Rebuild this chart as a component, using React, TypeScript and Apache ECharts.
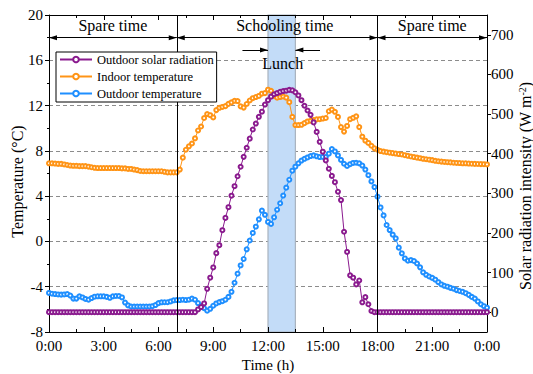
import React, { useEffect, useRef } from "react";
import * as echarts from "echarts";

const FONT = "'Liberation Serif', 'Times New Roman', Times, serif";

// Sampling grid: one reading every 10 minutes, 0:00 .. 24:00
const STEP_HOURS = 1 / 6;

const X_TICKS_HOURS = [0, 3, 6, 9, 12, 15, 18, 21, 24];
const LEFT_TICKS = [-8, -4, 0, 4, 8, 12, 16, 20];
const RIGHT_TICKS = [0, 100, 200, 300, 400, 500, 600, 700];

const SERIES_NAMES = ["Outdoor solar radiation", "Indoor temperature", "Outdoor temperature"];
const COLORS = ["#8a1a8e", "#ff9416", "#1f8fff"];

// Outdoor solar radiation (W m-2)
const SOLAR = [
  0, 0, 0, 0, 0, 0,
  0, 0, 0, 0, 0, 0,
  0, 0, 0, 0, 0, 0,
  0, 0, 0, 0, 0, 0,
  0, 0, 0, 0, 0, 0,
  0, 0, 0, 0, 0, 0,
  0, 0, 0, 0, 0, 0,
  0, 0, 0, 0, 0, 0,
  0, 7, 13, 22, 59, 87,
  113, 149, 169, 207, 238, 265,
  294, 318, 343, 367, 392, 415,
  438, 461, 476, 493, 506, 524,
  535, 544, 550, 553, 556, 558,
  559, 561, 560, 555, 547, 535,
  521, 509, 498, 479, 455, 430,
  405, 383, 362, 344, 328, 304,
  283, 203, 152, 93, 87, 70,
  80, 25, 38, 20, 3, 0,
  0, 0, 0, 0, 0, 0,
  0, 0, 0, 0, 0, 0,
  0, 0, 0, 0, 0, 0,
  0, 0, 0, 0, 0, 0,
  0, 0, 0, 0, 0, 0,
  0, 0, 0, 0, 0, 0,
  0,
];

// Indoor temperature (°C)
const INDOOR = [
  6.9, 6.9, 6.88, 6.85, 6.85, 6.8,
  6.75, 6.7, 6.68, 6.68, 6.65, 6.65,
  6.65, 6.6, 6.55, 6.5, 6.48, 6.48,
  6.48, 6.48, 6.48, 6.48, 6.48, 6.48,
  6.45, 6.45, 6.4, 6.4, 6.35, 6.3,
  6.22, 6.2, 6.2, 6.2, 6.2, 6.2,
  6.2, 6.2, 6.15, 6.1, 6.1, 6.1,
  6.1, 6.35, 7.4, 8.1, 8.4, 8.65,
  9.1, 9.8, 10.15, 10.9, 11.25, 11.15,
  10.95, 11.6, 11.8, 11.88, 11.95, 12.15,
  12.28, 12.42, 12.4, 11.93, 11.82, 12.14,
  12.45, 12.65, 12.75, 12.85, 13.05, 13.1,
  13.4, 13.3, 12.85, 12.7, 12.75, 12.8,
  12.7, 12.3, 11.0, 10.28, 10.28, 10.3,
  10.45, 10.6, 10.66, 10.72, 10.78, 10.8,
  10.85, 10.9, 11.5, 11.65, 11.45, 11.0,
  10.1, 9.7, 10.2, 10.8, 10.92, 11.05,
  10.1, 9.25, 8.9, 8.7, 8.45, 8.22,
  8.1, 7.98, 7.93, 7.88, 7.84, 7.8,
  7.76, 7.72, 7.68, 7.62, 7.56, 7.5,
  7.45, 7.4, 7.35, 7.3, 7.26, 7.22,
  7.18, 7.12, 7.08, 7.05, 7.02, 7.0,
  6.98, 6.95, 6.93, 6.92, 6.9, 6.9,
  6.88, 6.86, 6.85, 6.84, 6.83, 6.82,
  6.8,
];

// Outdoor temperature (°C)
const OUTDOOR = [
  -4.55, -4.62, -4.65, -4.68, -4.7, -4.68,
  -4.65, -4.78, -5.05, -5.05, -4.85, -4.95,
  -5.08, -5.15, -5.0, -4.88, -4.85, -4.85,
  -4.85, -4.9, -4.98, -4.85, -4.82, -4.82,
  -4.95, -5.4, -5.65, -5.75, -5.75, -5.75,
  -5.75, -5.75, -5.75, -5.75, -5.72, -5.62,
  -5.45, -5.38, -5.37, -5.37, -5.3, -5.2,
  -5.18, -5.18, -5.15, -5.18, -5.15, -5.05,
  -5.15, -5.45, -5.7, -5.9, -6.12, -5.95,
  -5.68, -5.48, -5.36, -5.28, -5.15, -4.9,
  -4.45, -3.65, -2.85, -2.12, -1.55, -0.7,
  0.08, 0.75, 1.3, 1.95, 2.72, 2.35,
  1.72, 1.55, 2.13, 2.8, 3.37, 4.05,
  4.75, 5.45, 6.25, 6.6, 6.9, 7.14,
  7.3, 7.42, 7.54, 7.6, 7.52, 7.45,
  7.46, 7.45, 7.75, 8.16, 7.95, 7.6,
  7.2, 6.86, 6.67, 6.82, 6.93, 6.95,
  6.9, 6.7, 6.35, 5.85, 5.3, 4.8,
  3.95, 3.0, 2.3, 1.45, 1.0, 0.6,
  0.27, -0.55, -1.05, -1.5, -1.7, -1.65,
  -1.73, -1.95, -2.29, -2.73, -2.95, -3.1,
  -3.22, -3.38, -3.6, -3.8, -3.92, -4.0,
  -4.1, -4.18, -4.3, -4.38, -4.45, -4.57,
  -4.72, -4.9, -5.05, -5.3, -5.55, -5.72,
  -5.85,
];

// Periods of the day (hours)
const PERIOD_NAMES = ["Spare time", "Schooling time", "Spare time"];
const PERIOD_BOUNDS = [0, 7, 18, 24];
const LUNCH_BOUNDS = [12, 13.5];
const LUNCH_LABEL = "Lunch";

const toPairs = (vals: number[]) => vals.map((v, i) => [i * STEP_HOURS, v]);

export default function App() {
  const ref = useRef<HTMLDivElement>(null);

  useEffect(() => {
    const chart = echarts.init(ref.current!, null, { renderer: "svg" });

    const axisLineStyle = { color: "#000", width: 1 };
    const labelStyle = { fontSize: 15, color: "#000", fontFamily: FONT };

    const seriesCommon = {
      type: "line" as const,
      symbol: "emptyCircle",
      symbolSize: 4,
      showAllSymbol: true,
      xAxisIndex: 0,
      silent: true,
    };

    const ARROW_Y = 18;
    const LUNCH_ARROW_Y = 16.9;

    const periodSegments = PERIOD_NAMES.map((_, k) => [
      { coord: [PERIOD_BOUNDS[k], ARROW_Y] },
      { coord: [PERIOD_BOUNDS[k + 1], ARROW_Y] },
    ]);

    const option: any = {
      animation: false,
      backgroundColor: "#fff",
      textStyle: { fontFamily: FONT },
      grid: { left: 49, right: 46, top: 15, bottom: 42, containLabel: false, outerBoundsMode: "none" },
      legend: {
        data: SERIES_NAMES,
        orient: "vertical",
        left: 56,
        top: 52,
        padding: [1, 3, 2, 3],
        itemGap: 4,
        itemWidth: 32,
        itemHeight: 7,
        borderColor: "#000",
        borderWidth: 1,
        backgroundColor: "#fff",
        textStyle: { fontSize: 12.5, color: "#000", fontFamily: FONT },
        z: 10,
      },
      xAxis: [
        {
          type: "value",
          min: X_TICKS_HOURS[0],
          max: X_TICKS_HOURS[X_TICKS_HOURS.length - 1],
          interval: 3,
          position: "bottom",
          z: 6,
          axisLine: { onZero: false, lineStyle: axisLineStyle },
          axisTick: { inside: true, length: 5, lineStyle: axisLineStyle },
          minorTick: { show: true, splitNumber: 2, length: 3, lineStyle: axisLineStyle },
          axisLabel: {
            ...labelStyle,
            margin: 6,
            showMinLabel: true,
            showMaxLabel: true,
            formatter: (v: number) => `${v % 24}:00`,
          },
          splitLine: { show: false },
          name: "Time (h)",
          nameLocation: "middle",
          nameGap: 23,
          nameTextStyle: { fontSize: 15, color: "#000", fontFamily: FONT },
        },
        {
          type: "value",
          min: X_TICKS_HOURS[0],
          max: X_TICKS_HOURS[X_TICKS_HOURS.length - 1],
          interval: 3,
          position: "top",
          z: 6,
          axisLine: { onZero: false, lineStyle: axisLineStyle },
          axisTick: { inside: true, length: 5, lineStyle: axisLineStyle },
          minorTick: { show: true, splitNumber: 2, length: 3, lineStyle: axisLineStyle },
          axisLabel: { show: false },
          splitLine: { show: false },
        },
      ],
      yAxis: [
        {
          type: "value",
          min: LEFT_TICKS[0],
          max: LEFT_TICKS[LEFT_TICKS.length - 1],
          interval: 4,
          position: "left",
          axisLine: { show: true, onZero: false, lineStyle: axisLineStyle },
          axisTick: { show: true, inside: false, length: 4, lineStyle: axisLineStyle },
          minorTick: { show: true, splitNumber: 2, length: 2, lineStyle: axisLineStyle },
          axisLabel: { ...labelStyle, margin: 6 },
          splitLine: { show: true, lineStyle: { color: "#8c8c8c", type: [4, 3], width: 1 } },
        },
        {
          type: "value",
          min: -50,
          max: 750,
          position: "right",
          axisLine: { show: true, onZero: false, lineStyle: axisLineStyle },
          axisTick: { show: true, inside: false, length: 4, lineStyle: axisLineStyle, customValues: RIGHT_TICKS },
          axisLabel: { ...labelStyle, margin: 4, customValues: RIGHT_TICKS },
          splitLine: { show: false },
        },
      ],
      series: [
        {
          name: "lunch-band",
          type: "line",
          data: [],
          xAxisIndex: 0,
          yAxisIndex: 0,
          z: 1,
          silent: true,
          markArea: {
            silent: true,
            itemStyle: { color: "#c3dcf8", borderColor: "#a9b3bf", borderWidth: 1.2 },
            data: [[{ xAxis: LUNCH_BOUNDS[0] }, { xAxis: LUNCH_BOUNDS[1] }]],
          },
        },
        {
          ...seriesCommon,
          name: SERIES_NAMES[2],
          yAxisIndex: 0,
          z: 2,
          data: toPairs(OUTDOOR),
          lineStyle: { color: COLORS[2], width: 1 },
          itemStyle: { color: COLORS[2], borderWidth: 1 },
        },
        {
          ...seriesCommon,
          name: SERIES_NAMES[1],
          yAxisIndex: 0,
          z: 3,
          data: toPairs(INDOOR),
          lineStyle: { color: COLORS[1], width: 1 },
          itemStyle: { color: COLORS[1], borderWidth: 1 },
        },
        {
          ...seriesCommon,
          name: SERIES_NAMES[0],
          yAxisIndex: 1,
          z: 4,
          data: toPairs(SOLAR),
          lineStyle: { color: COLORS[0], width: 1 },
          itemStyle: { color: COLORS[0], borderWidth: 1 },
        },
        {
          name: "dividers",
          type: "line",
          data: [],
          xAxisIndex: 0,
          yAxisIndex: 0,
          z: 5,
          silent: true,
          markLine: {
            silent: true,
            symbol: "none",
            label: { show: false },
            lineStyle: { color: "#000", width: 1, type: "solid" },
            data: [{ xAxis: PERIOD_BOUNDS[1] }, { xAxis: PERIOD_BOUNDS[2] }],
          },
        },
        {
          name: "arrows",
          type: "line",
          data: [],
          xAxisIndex: 0,
          yAxisIndex: 0,
          z: 5,
          silent: true,
          markLine: {
            silent: true,
            symbol: ["triangle", "triangle"],
            symbolSize: [5, 8],
            symbolOffset: [[0, 4], [0, 4]],
            label: { show: false },
            lineStyle: { color: "#000", width: 1, type: "solid" },
            data: [
              ...periodSegments,
              [
                { coord: [10.6, LUNCH_ARROW_Y], symbol: "none" },
                { coord: [LUNCH_BOUNDS[0], LUNCH_ARROW_Y] },
              ],
              [
                { coord: [LUNCH_BOUNDS[1], LUNCH_ARROW_Y] },
                { coord: [14.85, LUNCH_ARROW_Y], symbol: "none" },
              ],
            ],
          },
        },
      ],
    };

    chart.setOption(option);

    const px = (h: number, t: number) =>
      chart.convertToPixel({ xAxisIndex: 0, yAxisIndex: 0 }, [h, t]) as number[];

    const textStyle16 = { fontSize: 16, fill: "#000", fontFamily: FONT, align: "center", verticalAlign: "middle" };

    const periodTexts = PERIOD_NAMES.map((name, k) => {
      const mid = (PERIOD_BOUNDS[k] + PERIOD_BOUNDS[k + 1]) / 2 + (k === 1 ? 0.42 : 0);
      const p = px(mid, 19.05);
      return { type: "text", x: p[0], y: p[1], silent: true, z: 20, style: { ...textStyle16, text: name } };
    });
    const lunchP = px((LUNCH_BOUNDS[0] + LUNCH_BOUNDS[1]) / 2 + 0.06, 15.75);

    chart.setOption({
      graphic: [
        ...periodTexts,
        { type: "text", x: lunchP[0], y: lunchP[1], silent: true, z: 20, style: { ...textStyle16, text: LUNCH_LABEL } },
        {
          type: "text",
          x: 17.5,
          y: 181.5,
          rotation: Math.PI / 2,
          silent: true,
          style: { ...textStyle16, text: "Temperature (°C)" },
        },
        {
          type: "text",
          x: 525,
          y: 186,
          rotation: Math.PI / 2,
          silent: true,
          style: {
            ...textStyle16,
            text: "Solar radiation intensity (W m{sup|-2})",
            rich: {
              sup: { fontSize: 10, fontFamily: FONT, fill: "#000", verticalAlign: "top", lineHeight: 10 },
            },
          },
        },
      ],
    });

    return () => chart.dispose();
  }, []);

  return <div ref={ref} style={{ position: "absolute", left: 0, top: 0, width: 533, height: 374 }} />;
}
